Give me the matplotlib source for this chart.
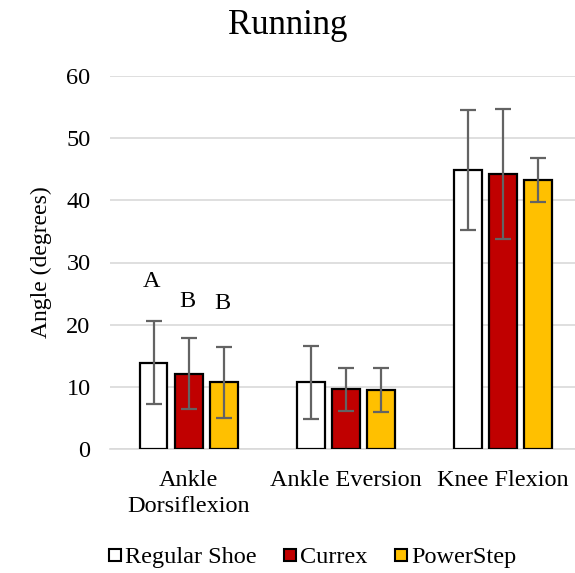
import numpy as np
import matplotlib.pyplot as plt
from matplotlib.lines import Line2D

# joint angles during running, mean and sd per shoe condition
categories = ['Ankle\nDorsiflexion', 'Ankle Eversion', 'Knee Flexion']
shoes = ['Regular Shoe', 'Currex', 'PowerStep']
regular_mean = [13.9, 10.7, 44.9]
regular_sd = [6.7, 5.9, 9.6]
currex_mean = [12.1, 9.6, 44.2]
currex_sd = [5.7, 3.5, 10.5]
powerstep_mean = [10.7, 9.5, 43.3]
powerstep_sd = [5.7, 3.6, 3.5]
letters = ['A', 'B', 'B']
letter_y = [26.1, 22.8, 22.6]

plt.rcParams['font.family'] = ['Liberation Serif', 'DejaVu Serif']

fig = plt.figure(figsize=(5.75, 5.73), dpi=100)
ax = fig.add_axes([110/575, 1 - 449/573, 1 - 110/575, (449 - 76)/573])

x = np.arange(len(categories))
w = 0.178
step = 0.223
means = [regular_mean, currex_mean, powerstep_mean]
sds = [regular_sd, currex_sd, powerstep_sd]
colors = ['white', '#C00000', '#FFC000']

for i in range(3):
    ax.bar(x + (i - 1)*step, means[i], w, color=colors[i], edgecolor='black',
           linewidth=1.6, zorder=3)
    ax.errorbar(x + (i - 1)*step, means[i], yerr=sds[i], fmt='none',
                ecolor='#636363', elinewidth=1.6, capsize=5.5, capthick=1.6,
                zorder=4)

# significance letters over the dorsiflexion bars
for i in range(3):
    ax.text(x[0] + (i - 1)*step - 0.01, letter_y[i], letters[i], ha='center',
            va='baseline', fontsize=17.5)

ax.set_xlim(-0.5, 2.46)
ax.set_ylim(0, 60)
ax.set_yticks(np.arange(0, 61, 10))
ax.yaxis.grid(True, color='#d9d9d9', linewidth=1.2, zorder=0)
ax.set_axisbelow(True)
for s in ['top', 'right', 'left']:
    ax.spines[s].set_visible(False)
ax.spines['bottom'].set_color('#d9d9d9')
ax.spines['bottom'].set_linewidth(1.2)
ax.tick_params(axis='both', length=0, labelsize=17.5)
ax.tick_params(axis='y', pad=14)
ax.tick_params(axis='x', pad=15)
ax.set_xticks(x)
ax.set_xticklabels(categories, linespacing=1.3)
ax.set_ylabel('Angle (degrees)', fontsize=17, labelpad=10)

fig.suptitle('Running', fontsize=25, y=0.984, va='top')

handles = [Line2D([], [], marker='s', linestyle='none', markersize=9,
                  markerfacecolor=c, markeredgecolor='black', markeredgewidth=1.5)
           for c in colors]
fig.legend(handles, shoes, loc='center', bbox_to_anchor=(312/575, 1 - 557/573),
           ncol=3, frameon=False, fontsize=17.5, handletextpad=0.1,
           columnspacing=1.1, handlelength=0.6)

plt.savefig('out.png', dpi=100)
